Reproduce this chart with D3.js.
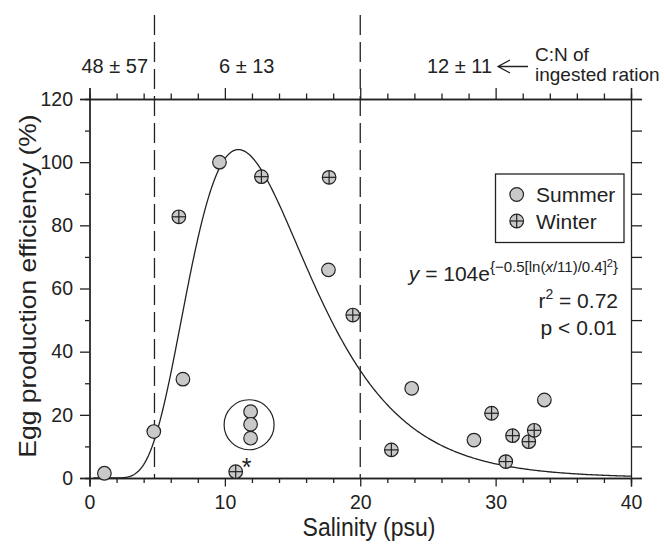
<!DOCTYPE html>
<html>
<head>
<meta charset="utf-8">
<script src="https://cdn.jsdelivr.net/npm/d3@7"></script>
<style>
  html, body { margin: 0; padding: 0; background: #fff; }
  svg { display: block; font-family: "Liberation Sans", Arial, Helvetica, sans-serif; }
  .axis path, .axis line { stroke: #222; stroke-width: 1.3; }
  .axis text { font-size: 19.5px; fill: #222; font-family: "Liberation Sans", Arial, sans-serif; }
</style>
</head>
<body>
<svg id="chart" width="665" height="548"></svg>
<script>
// Salinity (psu) and egg production efficiency (%) per sample
const summerSalinity = [1.1, 4.75, 6.9, 9.6, 17.65, 23.8, 28.4, 33.6, 11.9, 11.9, 11.9];
const summerEfficiency = [1.5, 14.7, 31.3, 100, 65.9, 28.4, 12.0, 24.7, 21.0, 17.0, 12.6];
const winterSalinity = [6.6, 10.8, 12.7, 17.7, 19.45, 22.3, 29.7, 30.75, 31.25, 32.45, 32.85];
const winterEfficiency = [82.7, 2.0, 95.4, 95.2, 51.6, 8.9, 20.5, 5.2, 13.4, 11.5, 15.1];

// Summer samples grouped inside the ring
const ringedSummer = [8, 9, 10];
// Winter sample flagged with an asterisk
const flaggedWinter = 1;

// Log-normal fit: y = a * exp(-0.5 * (ln(x / x0) / b)^2)
const fitA = 104, fitX0 = 11, fitB = 0.4;

// Salinity zone boundaries and C:N ratio of ingested ration per zone
const zoneBounds = [4.8, 20];
const zoneLabels = ["48 \u00b1 57", "6 \u00b1 13", "12 \u00b1 11"];

// Axis ticks
const xMajorTicks = [0, 10, 20, 30, 40];
const xMinorTicks = d3.range(0, 41, 2).filter(v => v % 10 !== 0);
const yMajorTicks = [0, 20, 40, 60, 80, 100, 120];
const yMinorTicks = [10, 30, 50, 70, 90, 110];
const yRightTicks = d3.range(0, 121, 10);

const svg = d3.select("#chart");
const x = d3.scaleLinear().domain([0, 40]).range([89.5, 631]);
const y = d3.scaleLinear().domain([0, 120]).range([478, 99]);
const ink = "#222";
const fillGrey = "#c9c9c9";

// Zone boundaries (dashed)
svg.append("g").selectAll("line").data(zoneBounds).join("line")
  .attr("x1", d => x(d)).attr("x2", d => x(d))
  .attr("y1", 15).attr("y2", y(0))
  .attr("stroke", ink).attr("stroke-width", 1.3)
  .attr("stroke-dasharray", "20,7");

// Axes: minor ticks first, then major ticks with labels
function axisGroup(gen, tf) {
  return svg.append("g").attr("class", "axis").attr("transform", tf).call(gen);
}
axisGroup(d3.axisBottom(x).tickValues(xMinorTicks).tickSize(5).tickFormat(""), `translate(0,${y(0)})`);
axisGroup(d3.axisBottom(x).tickValues(xMajorTicks).tickSize(8.5).tickPadding(8.5).tickFormat(d3.format("d")), `translate(0,${y(0)})`);
axisGroup(d3.axisTop(x).tickValues(xMinorTicks).tickSize(5.5).tickFormat(""), `translate(0,${y(120)})`);
axisGroup(d3.axisTop(x).tickValues(xMajorTicks).tickSize(11).tickFormat(""), `translate(0,${y(120)})`);
axisGroup(d3.axisLeft(y).tickValues(yMinorTicks).tickSize(4.5).tickFormat(""), `translate(${x(0)},0)`);
axisGroup(d3.axisLeft(y).tickValues(yMajorTicks).tickSize(9.5).tickPadding(7).tickFormat(d3.format("d")), `translate(${x(0)},0)`);
axisGroup(d3.axisRight(y).tickValues(yRightTicks).tickSize(11).tickFormat(""), `translate(${x(40)},0)`);
svg.selectAll(".axis path").attr("fill", "none");

// Fitted curve
const fitXs = d3.range(0.3, 40.001, 0.1);
const fit = v => fitA * Math.exp(-0.5 * Math.pow(Math.log(v / fitX0) / fitB, 2));
svg.append("path")
  .datum(fitXs)
  .attr("fill", "none").attr("stroke", ink).attr("stroke-width", 1.3)
  .attr("d", d3.line().x(d => x(d)).y(d => y(fit(d))).curve(d3.curveLinear));

// Markers
const r = 6.8;
function summerMarker(g, cx, cy) {
  g.append("circle").attr("cx", cx).attr("cy", cy).attr("r", r)
    .attr("fill", fillGrey).attr("stroke", ink).attr("stroke-width", 1.2);
}
function winterMarker(g, cx, cy) {
  summerMarker(g, cx, cy);
  g.append("line").attr("x1", cx - r).attr("x2", cx + r).attr("y1", cy).attr("y2", cy)
    .attr("stroke", ink).attr("stroke-width", 1.2);
  g.append("line").attr("x1", cx).attr("x2", cx).attr("y1", cy - r).attr("y2", cy + r)
    .attr("stroke", ink).attr("stroke-width", 1.2);
}

const pts = svg.append("g");
summerSalinity.forEach((s, i) => summerMarker(pts, x(s), y(summerEfficiency[i])));
winterSalinity.forEach((s, i) => winterMarker(pts, x(s), y(winterEfficiency[i])));

// Ring around the grouped summer samples
const ringCx = d3.mean(ringedSummer, i => x(summerSalinity[i]));
const ringCy = d3.mean(ringedSummer, i => y(summerEfficiency[i]));
svg.append("circle").attr("cx", ringCx - 1.5).attr("cy", ringCy).attr("r", 25)
  .attr("fill", "none").attr("stroke", ink).attr("stroke-width", 1.2);

// Asterisk beside the flagged winter sample
svg.append("text")
  .attr("x", x(winterSalinity[flaggedWinter]) + 11)
  .attr("y", y(winterEfficiency[flaggedWinter]) + 4)
  .attr("text-anchor", "middle").attr("font-size", 25).attr("fill", ink)
  .text("*");

// C:N labels above each zone
const zoneTextX = [x(0) - 8, 219, 427];
const topText = svg.append("g").attr("font-size", 20).attr("fill", ink);
zoneLabels.forEach((t, i) => {
  topText.append("text").attr("x", zoneTextX[i]).attr("y", 73).text(t);
});
// Arrow pointing to the last zone label
const arrowY = 66.5, arrowL = 498, arrowR = 528;
svg.append("path")
  .attr("d", `M${arrowR},${arrowY}H${arrowL}M${arrowL + 12},${arrowY - 6.5}L${arrowL},${arrowY}L${arrowL + 12},${arrowY + 6.5}`)
  .attr("fill", "none").attr("stroke", ink).attr("stroke-width", 1.3);
const noteText = svg.append("g").attr("font-size", 19).attr("fill", ink);
noteText.append("text").attr("x", 535).attr("y", 60.5).text("C:N of");
noteText.append("text").attr("x", 535).attr("y", 81).text("ingested ration");

// Legend
const lg = svg.append("g");
lg.append("rect").attr("x", 495.5).attr("y", 174).attr("width", 128.5).attr("height", 68.5)
  .attr("fill", "#fff").attr("stroke", ink).attr("stroke-width", 1.3);
summerMarker(lg, 516.7, 194.5);
winterMarker(lg, 516.7, 221);
lg.append("text").attr("x", 536).attr("y", 202).attr("font-size", 21).attr("fill", ink).text("Summer");
lg.append("text").attr("x", 536).attr("y", 228.5).attr("font-size", 21).attr("fill", ink).text("Winter");

// Fit equation and statistics
const eq = svg.append("text").attr("x", 618).attr("y", 281).attr("text-anchor", "end")
  .attr("font-size", 21).attr("fill", ink);
eq.append("tspan").attr("font-style", "italic").text("y");
eq.append("tspan").text(" = 104e");
const sup = eq.append("tspan").attr("font-size", 15).attr("dy", -9);
sup.append("tspan").text("{\u22120.5[ln(");
sup.append("tspan").attr("font-style", "italic").text("x");
sup.append("tspan").text("/11)/0.4]");
eq.append("tspan").attr("font-size", 11).attr("dy", -5).text("2");
eq.append("tspan").attr("font-size", 15).attr("dy", 5).text("}");

const r2 = svg.append("text").attr("x", 618).attr("y", 308).attr("text-anchor", "end")
  .attr("font-size", 21).attr("fill", ink);
r2.append("tspan").text("r");
r2.append("tspan").attr("font-size", 14).attr("dy", -9).text("2");
r2.append("tspan").attr("dy", 9).text(" = 0.72");
svg.append("text").attr("x", 617).attr("y", 335).attr("text-anchor", "end")
  .attr("font-size", 21).attr("fill", ink).text("p < 0.01");

// Axis titles
svg.append("text")
  .attr("transform", "translate(369,536) scale(1,1.12)")
  .attr("text-anchor", "middle").attr("font-size", 23).attr("fill", ink)
  .text("Salinity (psu)");
svg.append("text")
  .attr("transform", "translate(36,286) rotate(-90) scale(1.15,1)")
  .attr("text-anchor", "middle").attr("font-size", 23).attr("fill", ink)
  .text("Egg production efficiency (%)");
</script>
</body>
</html>
